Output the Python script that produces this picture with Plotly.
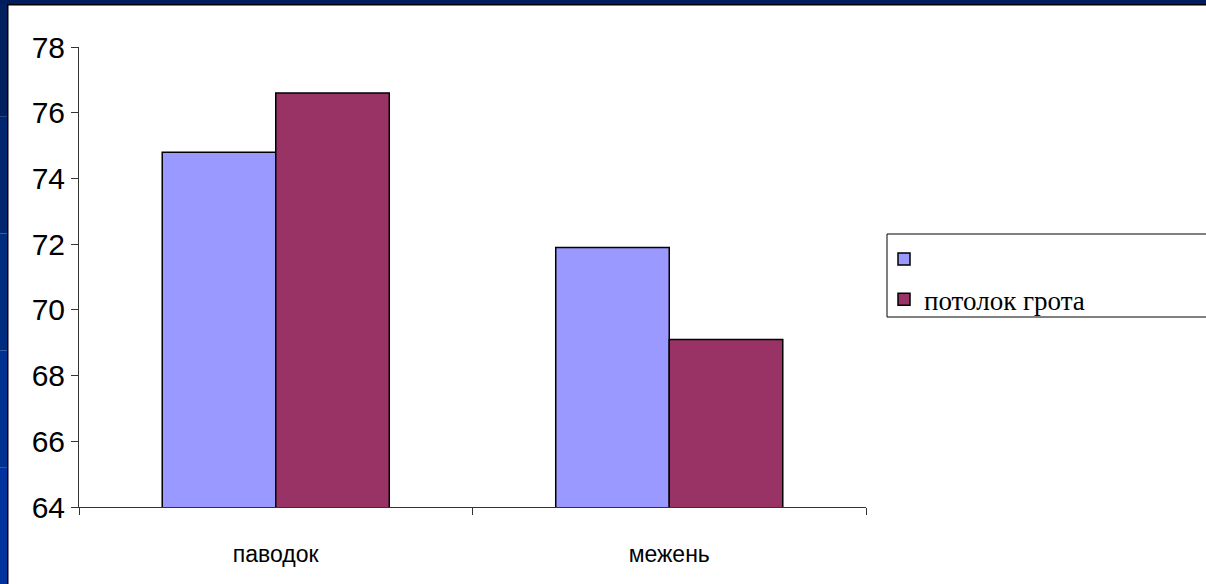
import plotly.graph_objects as go

categories = ["паводок", "межень"]
series_names = ["", "потолок грота"]
series_values = [
    [74.8, 71.9],
    [76.6, 69.1],
]
series_colors = ["#9999FF", "#993366"]
y_ticks = [64, 66, 68, 70, 72, 74, 76, 78]

W, H = 1206, 584
L, R, T, B = 79, 340, 47, 77
PW, PH = W - L - R, H - T - B

def px_x(px):
    return (px - L) / PW

def px_y(py):
    return (H - B - py) / PH

fig = go.Figure()
for i, (name, vals) in enumerate(zip(series_names, series_values)):
    fig.add_trace(go.Bar(
        x=categories, y=vals, name=name,
        marker=dict(color=series_colors[i], line=dict(color="#000000", width=1.5)),
        legendgroup=f"g{i}",
    ))

shapes = []
# legend box
shapes.append(dict(type="rect", xref="paper", yref="paper",
                   x0=px_x(887), x1=px_x(1215), y0=px_y(317), y1=px_y(234),
                   line=dict(color="#000000", width=1), fillcolor="rgba(0,0,0,0)"))
# frame: left blue strip in gradient segments
left_cols = ["#00205F", "#00266F", "#002C80", "#003090", "#00339E"]
n = len(left_cols)
for k, c in enumerate(left_cols):
    y0 = k * H / n
    y1 = (k + 1) * H / n
    shapes.append(dict(type="rect", xref="paper", yref="paper",
                       x0=px_x(0), x1=px_x(7), y0=px_y(y1), y1=px_y(y0),
                       line=dict(width=0), fillcolor=c, layer="above"))
shapes.append(dict(type="rect", xref="paper", yref="paper",
                   x0=px_x(0), x1=px_x(W), y0=px_y(4), y1=px_y(0),
                   line=dict(width=0), fillcolor="#001C5C", layer="above"))
shapes.append(dict(type="rect", xref="paper", yref="paper",
                   x0=px_x(7), x1=px_x(8.5), y0=px_y(H), y1=px_y(4),
                   line=dict(width=0), fillcolor="#000000", layer="above"))
shapes.append(dict(type="rect", xref="paper", yref="paper",
                   x0=px_x(7), x1=px_x(W), y0=px_y(5.5), y1=px_y(4),
                   line=dict(width=0), fillcolor="#000000", layer="above"))

fig.update_layout(
    width=W, height=H,
    margin=dict(l=L, r=R, t=T, b=B, pad=0),
    paper_bgcolor="#FFFFFF", plot_bgcolor="#FFFFFF",
    barmode="group", bargap=0.423, bargroupgap=0,
    showlegend=True,
    legend=dict(x=px_x(884), y=px_y(235), xanchor="left", yanchor="top",
                font=dict(family="Liberation Serif", size=27, color="#000000"),
                bgcolor="rgba(0,0,0,0)", borderwidth=0,
                traceorder="grouped", tracegroupgap=2),
    shapes=shapes,
    xaxis=dict(showline=True, linecolor="#333333", linewidth=1,
               ticks="outside", ticklen=7, tickcolor="#333333",
               tickson="boundaries", showgrid=False, zeroline=False,
               tickfont=dict(family="Liberation Sans", size=23, color="#000000"),
               ticklabelstandoff=26),
    yaxis=dict(range=[64, 78], tickvals=y_ticks, showline=True, linecolor="#333333",
               linewidth=1, ticks="outside", ticklen=7, tickcolor="#333333",
               showgrid=False, zeroline=False,
               tickfont=dict(family="Liberation Sans", size=30, color="#000000"),
               ticklabelstandoff=0),
)

fig.write_html("out.html")
